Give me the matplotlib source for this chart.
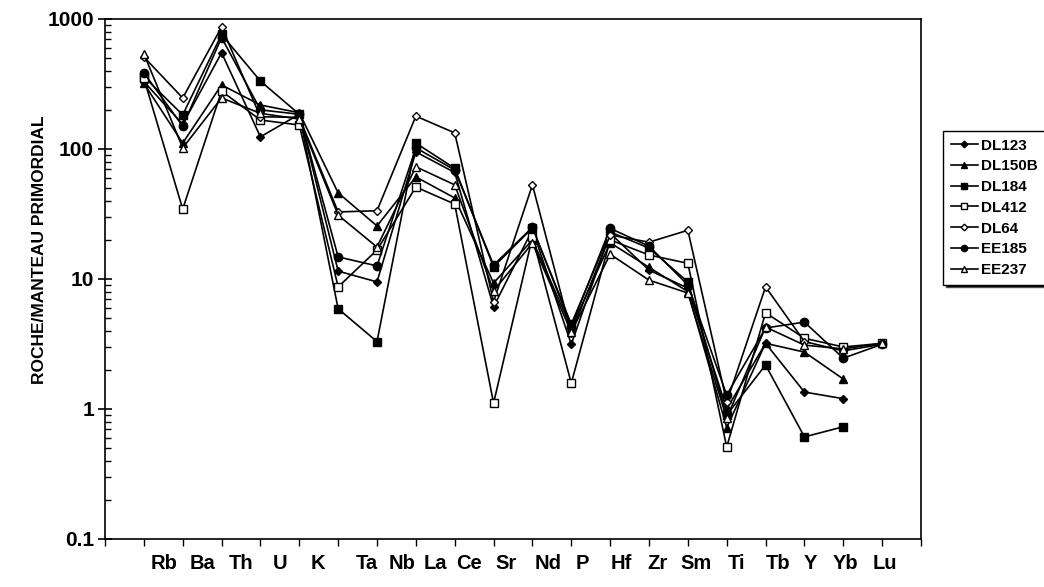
import numpy as np
import matplotlib.pyplot as plt
from matplotlib.ticker import LogLocator, NullFormatter, FixedLocator

plt.rcParams['font.family'] = ['Liberation Sans', 'DejaVu Sans']

nan = np.nan

# elements (primordial mantle normalised)
elements = ['Rb', 'Ba', 'Th', 'U', 'K', 'Ta', 'Nb', 'La', 'Ce', 'Sr',
            'Nd', 'P', 'Hf', 'Zr', 'Sm', 'Ti', 'Tb', 'Y', 'Yb', 'Lu']

DL123 = [330, 155, 550, 124, 185, 11.5, 9.5, 95, 66, 6.1,
         24, 3.15, 22.5, 11.7, 8.5, 1.0, 3.2, 1.35, 1.2, nan]
DL150B = [320, 111, 311, 218, 190, 46, 25.6, 61, 42, 9.3,
          20, 4.2, 19, 12.3, 8.0, 0.72, 3.2, 2.74, 1.7, nan]
DL184 = [360, 183, 760, 333, 185, 5.9, 3.3, 111, 71, 12.4,
         24.7, 4.5, 23, 17.3, 9.5, 0.9, 2.18, 0.61, 0.73, nan]
DL412 = [350, 34.5, 279, 167, 153, 8.7, 16.7, 51, 37.7, 1.11,
         21, 1.58, 20, 15.3, 13.2, 0.51, 5.5, 3.5, 3.0, 3.2]
DL64 = [510, 247, 867, 177, 175, 32.8, 33.5, 179, 133, 6.7,
        53, 3.84, 21.8, 19.2, 23.7, 1.13, 8.7, 3.3, 2.8, 3.15]
EE185 = [385, 150, 720, 200, 185, 14.8, 12.6, 102, 69, 12.8,
         25, 4.3, 24.5, 17.9, 9.0, 1.28, 4.2, 4.66, 2.46, 3.15]
EE237 = [540, 102, 247, 188, 170, 31, 17.6, 73, 53, 8.1,
         18.9, 3.9, 15.5, 9.8, 7.8, 0.85, 4.27, 3.1, 2.9, 3.2]

series = [
    ('DL123', DL123, 'D', 'black', 4.5),
    ('DL150B', DL150B, '^', 'black', 6),
    ('DL184', DL184, 's', 'black', 5.5),
    ('DL412', DL412, 's', 'white', 5.5),
    ('DL64', DL64, 'D', 'white', 4.5),
    ('EE185', EE185, 'o', 'black', 6),
    ('EE237', EE237, '^', 'white', 6),
]

# label positions (labels are not centred on the ticks in the original)
label_x = [0.51, 1.51, 2.49, 3.51, 4.49, 5.74, 6.64, 7.49, 8.38, 9.33,
           10.41, 11.28, 12.28, 13.23, 14.2, 15.26, 16.33, 17.15, 18.05, 19.08]

W, H = 1044, 587
fig = plt.figure(figsize=(W / 100, H / 100), dpi=100)
ax = fig.add_axes([105 / W, (H - 539) / H, (921 - 105) / W, (539 - 19) / H])

x = np.arange(len(elements))
for name, vals, mk, fc, ms in series:
    ax.plot(x, vals, color='black', lw=1.2, marker=mk, ms=ms,
            mfc=fc, mec='black', mew=1.0, label=name)

ax.set_yscale('log')
ax.set_ylim(0.1, 1000)
ax.set_xlim(-1, 20)

ax.yaxis.set_major_locator(FixedLocator([0.1, 1, 10, 100, 1000]))
ax.set_yticklabels(['0.1', '1', '10', '100', '1000'], fontweight='bold', fontsize=15)
ax.yaxis.set_minor_locator(LogLocator(base=10, subs=np.arange(2, 10)))
ax.yaxis.set_minor_formatter(NullFormatter())
ax.tick_params(axis='y', which='major', direction='inout', length=10, width=1.2, pad=3)
ax.tick_params(axis='y', which='minor', direction='in', length=4, width=1)

ax.set_xticks(np.arange(-1, 21))
ax.set_xticklabels([])
ax.tick_params(axis='x', direction='out', length=5, width=1)

for lx, el in zip(label_x, elements):
    ax.text(lx, -0.047, el, transform=ax.get_xaxis_transform(),
            ha='center', va='center', fontsize=14.5, fontweight='bold')

for s in ax.spines.values():
    s.set_linewidth(1.2)

fig.text(40 / W, 1 - 250 / H, 'ROCHE/MANTEAU PRIMORDIAL', rotation=90,
         ha='center', va='center', fontsize=12.5, fontweight='bold')

leg = fig.legend(loc='upper left', bbox_to_anchor=(943 / W, 1 - 131 / H),
                 borderaxespad=0, frameon=True, fancybox=False,
                 shadow={'facecolor': 'black', 'alpha': 1},
                 prop={'weight': 'bold', 'size': 11}, handlelength=1.8,
                 handletextpad=0.2, labelspacing=0.44, borderpad=0.5,
                 markerscale=0.75)
leg.get_frame().set_edgecolor('black')
leg.get_frame().set_linewidth(1.0)

fig.savefig('out.png', dpi=100)
